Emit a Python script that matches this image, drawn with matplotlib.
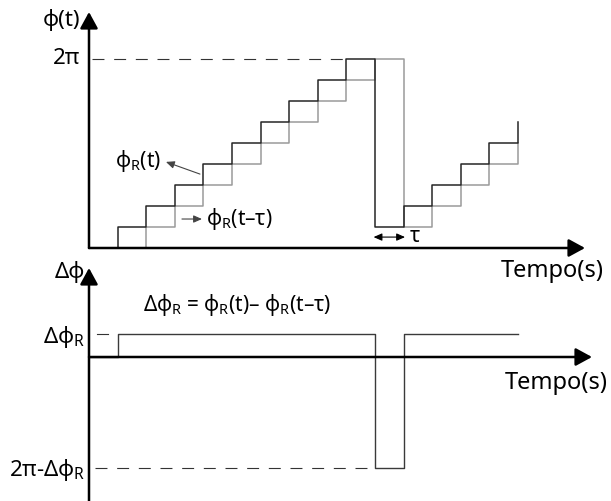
import matplotlib

matplotlib.use("Agg")
import matplotlib.pyplot as plt
import numpy as np

plt.rcParams["font.family"] = ["Noto Sans", "DejaVu Sans"]
plt.rcParams["mathtext.fontset"] = "custom"
plt.rcParams["mathtext.rm"] = "Noto Sans"
plt.rcParams["mathtext.it"] = "Noto Sans"
plt.rcParams["mathtext.bf"] = "Noto Sans:bold"
plt.rcParams["lines.scale_dashes"] = False

# time axis in units of one step (tau)
t = np.arange(16)
# phase levels (one unit = one step, 9 = 2pi)
phi_r = [0, 1, 2, 3, 4, 5, 6, 7, 8, 9, 1, 2, 3, 4, 5, 6]
phi_r_delayed = [0, 0, 1, 2, 3, 4, 5, 6, 7, 8, 9, 1, 2, 3, 4, 5]
two_pi_level = 9
# phase difference (one unit = delta phi_R)
dphi = [0, 1, 1, 1, 1, 1, 1, 1, 1, 1, -4.83, 1, 1, 1, 1, 1]
dphi_r_level = 1
dphi_wrap_level = -4.83

W, H = 611, 501
STEP_PX = 28.6
fig = plt.figure(figsize=(W / 100, H / 100), dpi=100)


def px_axes(left, top, right, bottom):
    return fig.add_axes([left / W, 1 - bottom / H, (right - left) / W, (bottom - top) / H])


def axis_arrow(ax, start, end):
    ax.annotate("", xy=end, xytext=start,
                arrowprops=dict(arrowstyle="-|>,head_length=0.55,head_width=0.3",
                                color="black", lw=1.8, mutation_scale=18,
                                shrinkA=0, shrinkB=0),
                annotation_clip=False)


def small_arrow(ax, start, end, style="-|>", color="#444444"):
    ax.annotate("", xy=end, xytext=start,
                arrowprops=dict(arrowstyle=style + ",head_length=0.5,head_width=0.22",
                                color=color, lw=0.8, mutation_scale=10,
                                shrinkA=0, shrinkB=0),
                annotation_clip=False)


# ---- top panel: phi(t)
ax1 = px_axes(89, 12, 585, 248)
ax1.set_xlim(0, (585 - 89) / STEP_PX)
ax1.set_ylim(0, (248 - 12) / 21)
ax1.axis("off")

ax1.plot(t, phi_r_delayed, drawstyle="steps-post", color="#9a9a9a", lw=1.1, clip_on=False)
ax1.plot(t, phi_r, drawstyle="steps-post", color="#262626", lw=1.1, clip_on=False)
ax1.plot([0.1, 9], [two_pi_level, two_pi_level], color="#333333", lw=0.8,
         dashes=(8.6, 7.0), clip_on=False)

axis_arrow(ax1, (0, 0), (0, ax1.get_ylim()[1]))
axis_arrow(ax1, (0, 0), (ax1.get_xlim()[1], 0))

ax1.text(-0.3, 10.86, "ϕ(t)", ha="right", va="center", fontsize=16)
ax1.text(-0.3, two_pi_level, "2π", ha="right", va="center", fontsize=16)
ax1.text(18.0, -1.1, "Tempo(s)", ha="right", va="center", fontsize=17)

ax1.text(2.5, 4.15, r"$ϕ_R$(t)", ha="right", va="center", fontsize=15)
small_arrow(ax1, (3.88, 3.52), (2.69, 4.10))
small_arrow(ax1, (3.25, 1.38), (3.95, 1.38))
ax1.text(4.1, 1.4, r"$ϕ_R$(t–τ)", ha="left", va="center", fontsize=15)

small_arrow(ax1, (9.95, 0.52), (11.05, 0.52), style="<|-|>", color="black")
ax1.text(11.2, 0.55, "τ", ha="left", va="center", fontsize=15)

# ---- bottom panel: delta phi
ax2 = px_axes(89, 268, 592, 501)
ax2.set_xlim(0, (592 - 89) / STEP_PX)
ax2.set_ylim((357 - 501) / 23, (357 - 268) / 23)
ax2.axis("off")

ax2.plot(t, dphi, drawstyle="steps-post", color="#3a3a3a", lw=1.0, clip_on=False)
ax2.plot([0.28, 0.66], [dphi_r_level, dphi_r_level], color="#333333", lw=0.8, clip_on=False)
ax2.plot([0.2, 9.9], [dphi_wrap_level, dphi_wrap_level], color="#333333", lw=0.8,
         dashes=(8.6, 7.0), clip_on=False)

axis_arrow(ax2, (0, ax2.get_ylim()[0]), (0, ax2.get_ylim()[1]))
axis_arrow(ax2, (0, 0), (ax2.get_xlim()[1], 0))

ax2.text(-0.15, 3.7, "Δϕ", ha="right", va="center", fontsize=16)
ax2.text(-0.15, 0.85, r"Δ$ϕ_R$", ha="right", va="center", fontsize=16)
ax2.text(-0.15, -4.9, r"2π-Δ$ϕ_R$", ha="right", va="center", fontsize=16)
ax2.text(1.9, 2.26, r"Δ$ϕ_R$ = $ϕ_R$(t)– $ϕ_R$(t–τ)", ha="left", va="center", fontsize=15)
ax2.text(18.15, -1.13, "Tempo(s)", ha="right", va="center", fontsize=17)

fig.savefig("out.png", dpi=100)
plt.close(fig)
